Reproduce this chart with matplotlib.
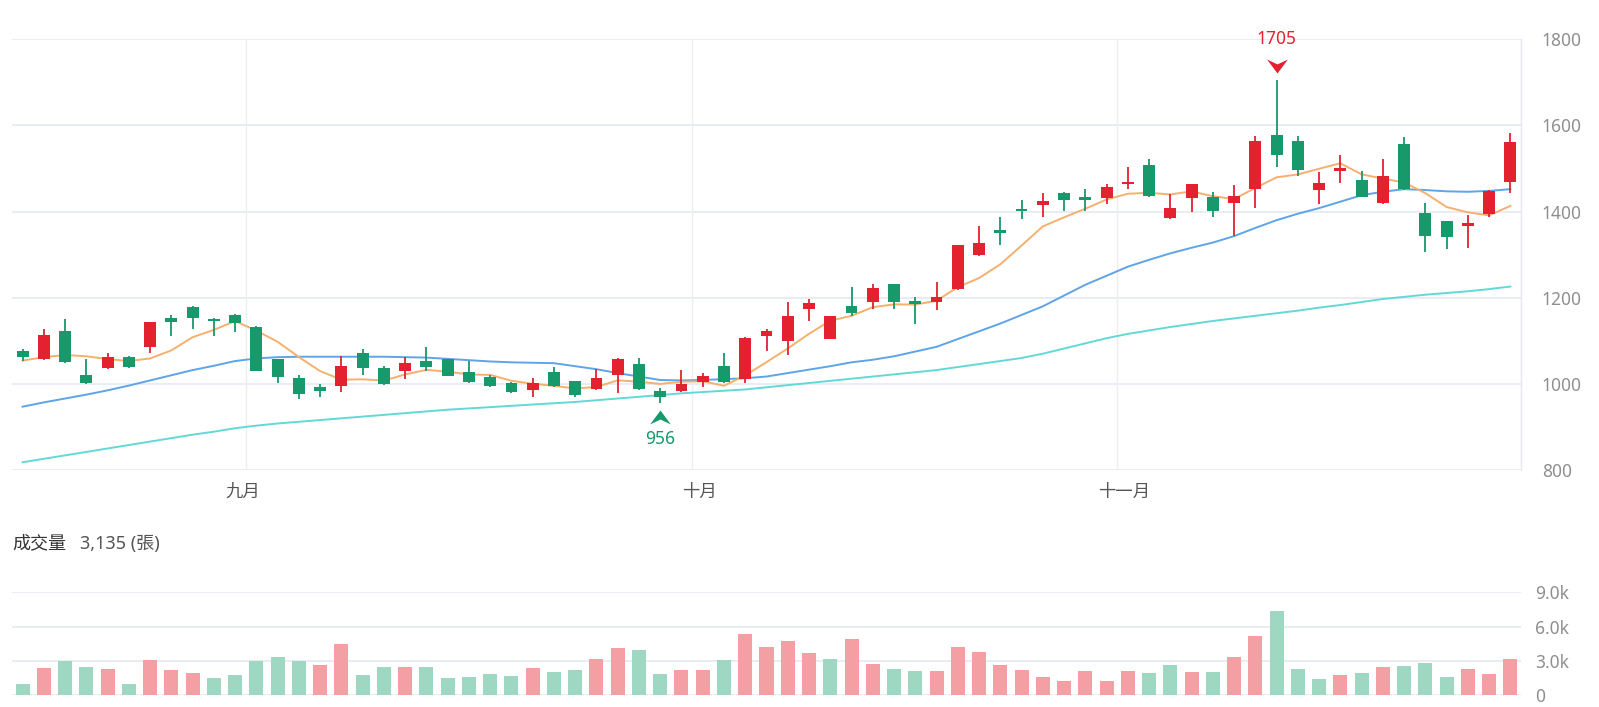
import numpy as np
import pandas as pd
import matplotlib
matplotlib.use("Agg")
import matplotlib.pyplot as plt
from matplotlib.path import Path
from matplotlib.transforms import offset_copy
from matplotlib.ticker import FuncFormatter

plt.rcParams['font.family'] = ['Noto Sans', 'Noto Sans CJK TC', 'DejaVu Sans']

# ---------------- data ----------------
opens = [1077, 1058, 1123, 1021, 1036, 1062, 1085, 1154, 1179, 1150,
         1160, 1133, 1057, 1013, 992, 995, 1072, 1036, 1031, 1053,
         1058, 1027, 1017, 1003, 986, 1028, 1007, 987, 1021, 1046,
         983, 984, 1005, 1042, 1011, 1110, 1100, 1174, 1104, 1181,
         1189, 1232, 1192, 1191, 1220, 1299, 1357, 1407, 1415, 1444,
         1434, 1431, 1464, 1508, 1386, 1432, 1433, 1421, 1452, 1578,
         1563, 1450, 1495, 1473, 1419, 1556, 1397, 1378, 1367, 1394,
         1469]
highs = [1080, 1127, 1150, 1057, 1071, 1064, 1144, 1161, 1180, 1152,
         1162, 1134, 1058, 1021, 999, 1065, 1080, 1041, 1062, 1086,
         1058, 1053, 1021, 1005, 1014, 1038, 1007, 1034, 1059, 1059,
         991, 1032, 1026, 1072, 1108, 1127, 1191, 1196, 1158, 1226,
         1231, 1232, 1201, 1236, 1323, 1367, 1387, 1427, 1442, 1446,
         1452, 1464, 1503, 1521, 1441, 1465, 1445, 1462, 1576, 1705,
         1576, 1491, 1532, 1495, 1521, 1572, 1419, 1378, 1392, 1450,
         1582]
lows = [1052, 1055, 1048, 1000, 1034, 1036, 1072, 1112, 1127, 1111,
        1121, 1030, 1001, 966, 970, 980, 1021, 998, 1011, 1031,
        1019, 1001, 993, 978, 970, 992, 970, 986, 978, 986,
        956, 982, 992, 1003, 1003, 1077, 1067, 1147, 1104, 1157,
        1173, 1173, 1140, 1171, 1218, 1297, 1322, 1382, 1387, 1402,
        1402, 1418, 1452, 1435, 1383, 1398, 1388, 1343, 1408, 1503,
        1483, 1417, 1467, 1433, 1417, 1450, 1307, 1313, 1316, 1388,
        1442]
closes = [1062, 1113, 1050, 1001, 1062, 1039, 1143, 1144, 1154, 1147,
          1141, 1031, 1015, 977, 984, 1041, 1036, 1000, 1048, 1038,
          1019, 1004, 995, 980, 1003, 995, 973, 1013, 1057, 987,
          969, 999, 1018, 1005, 1107, 1123, 1158, 1188, 1157, 1164,
          1223, 1191, 1185, 1202, 1322, 1328, 1351, 1402, 1425, 1427,
          1428, 1458, 1469, 1436, 1408, 1464, 1401, 1437, 1564, 1532,
          1497, 1467, 1501, 1435, 1483, 1452, 1343, 1340, 1373, 1448,
          1562]
volumes = [990, 2370, 3010, 2460, 2340, 960, 3100, 2190, 1930, 1490,
           1780, 2980, 3330, 3010, 2630, 4500, 1810, 2430, 2430, 2490,
           1520, 1640, 1840, 1670, 2370, 2020, 2220, 3130, 4090, 3980,
           1900, 2190, 2250, 3070, 5320, 4240, 4710, 3680, 3160, 4880,
           2720, 2310, 2130, 2110, 4240, 3800, 2690, 2250, 1610, 1230,
           2160, 1290, 2110, 1930, 2690, 2050, 2050, 3390, 5180, 7370,
           2310, 1400, 1810, 1930, 2510, 2600, 2810, 1610, 2310, 1900,
           3135]
# first four 5-day MA values (earlier closes are off-chart)
ma5_head = [1054, 1062, 1067, 1064]
ma20 = [947, 957, 966, 975, 985, 996, 1008, 1020, 1032, 1042,
        1053, 1059, 1062, 1063, 1063, 1063, 1063, 1063, 1062, 1061,
        1058, 1055, 1052, 1050, 1049, 1048, 1041, 1034, 1025, 1017,
        1009, 1008, 1009, 1011, 1013, 1017, 1025, 1033, 1041, 1050,
        1056, 1064, 1075, 1086, 1104, 1122, 1140, 1160, 1180, 1205,
        1230, 1251, 1272, 1288, 1303, 1316, 1328, 1343, 1362, 1380,
        1395, 1408, 1423, 1438, 1446, 1452, 1450, 1447, 1446, 1448,
        1452]
ma60 = [818, 826, 834, 842, 850, 858, 866, 874, 882, 889,
        897, 903, 908, 912, 916, 920, 924, 928, 932, 936,
        940, 943, 946, 949, 952, 955, 958, 962, 966, 970,
        974, 978, 981, 984, 987, 992, 997, 1002, 1007, 1012,
        1017, 1022, 1027, 1032, 1039, 1046, 1053, 1060, 1070, 1082,
        1094, 1106, 1116, 1124, 1132, 1139, 1146, 1152, 1158, 1164,
        1170, 1177, 1183, 1190, 1197, 1202, 1207, 1211, 1215, 1220,
        1226]
month_labels = ['九月', '十月', '十一月']
month_start = [11, 32, 52]
price_ticks = [800, 1000, 1200, 1400, 1600, 1800]
vol_ticks = [0, 3000, 6000, 9000]

# ---------------- styling ----------------
RED = '#e3212f'
GREEN = '#17996b'
RED_V = '#f39fa4'
GREEN_V = '#9ed8c3'
GRID = '#e8eaf2'
TICK = '#8f8f8f'
month_label_shift = [-0.65, -0.15, -0.15]

o = np.array(opens, float)
h = np.array(highs, float)
l = np.array(lows, float)
c = np.array(closes, float)
v = np.array(volumes, float)
x = np.arange(len(c))

ma5 = pd.Series(c).rolling(5).mean().to_numpy()
ma5[:4] = ma5_head

W, H = 1599, 707
fig = plt.figure(figsize=(W / 100, H / 100), dpi=100)
left, right = 12, 1521
ax = fig.add_axes([left / W, 1 - 470 / H, (right - left) / W, (470 - 39.3) / H])
axv = fig.add_axes([left / W, 1 - 695.3 / H, (right - left) / W, (695.3 - 592.3) / H])

# ---- price panel ----
for yv in price_ticks:
    ax.axhline(yv, color=GRID, lw=1.3, zorder=0)
for ms in month_start:
    ax.axvline(ms - 0.5, color='#eceef4', lw=1.0, zorder=0)

ax.plot(x, ma60, color='#62d9d6', lw=1.4, zorder=2)
ax.plot(x, ma20, color='#5ea4e8', lw=1.4, zorder=2)
ax.plot(x, ma5, color='#f6b06e', lw=1.4, zorder=2)

up = c >= o
ccol = np.where(up, RED, GREEN)
ax.vlines(x, l, h, colors=ccol, lw=1.3, zorder=3)
body_h = np.abs(c - o)
min_h = 4.0
mid = (o + c) / 2
bh = np.maximum(body_h, min_h)
ax.bar(x, bh, bottom=mid - bh / 2, width=0.56, color=ccol, linewidth=0, zorder=4)

# high / low markers
down_path = Path([(-1, 0.67), (0, 0.2), (1, 0.67), (0, -0.67), (-1, 0.67)],
                 [Path.MOVETO, Path.LINETO, Path.LINETO, Path.LINETO, Path.CLOSEPOLY])
up_path = Path([(-1, -0.67), (0, -0.2), (1, -0.67), (0, 0.67), (-1, -0.67)],
               [Path.MOVETO, Path.LINETO, Path.LINETO, Path.LINETO, Path.CLOSEPOLY])
ih = int(np.argmax(h))
il = int(np.argmin(l))
ax.plot(ih, h[ih], marker=down_path, ms=15, color=RED, mew=0, clip_on=False, zorder=6,
        transform=offset_copy(ax.transData, fig=fig, x=0, y=10.5, units='points'))
ax.annotate(f'{h[ih]:.0f}', xy=(ih, h[ih]), xytext=(0, 29.5), textcoords='offset points',
            ha='center', va='center', color=RED, fontsize=12.5, annotation_clip=False)
ax.plot(il, l[il], marker=up_path, ms=15, color=GREEN, mew=0, clip_on=False, zorder=6,
        transform=offset_copy(ax.transData, fig=fig, x=0, y=-10, units='points'))
ax.annotate(f'{l[il]:.0f}', xy=(il, l[il]), xytext=(0, -26), textcoords='offset points',
            ha='center', va='center', color=GREEN, fontsize=12.5, annotation_clip=False)

ax.set_xlim(-0.5, len(c) - 0.5)
ax.set_ylim(800, 1800)
ax.set_yticks(price_ticks)
ax.yaxis.tick_right()
ax.tick_params(axis='y', length=0, pad=15, labelsize=12.5, labelcolor=TICK)
ax.set_xticks([ms + sh for ms, sh in zip(month_start, month_label_shift)])
ax.set_xticklabels(month_labels)
ax.tick_params(axis='x', length=0, pad=9, labelsize=12.5, labelcolor='#555555')
for s in ['top', 'left', 'bottom']:
    ax.spines[s].set_visible(False)
ax.spines['right'].set_color('#e6e8ef')
ax.spines['right'].set_linewidth(1.0)

# ---- volume panel ----
for yv in vol_ticks:
    axv.axhline(yv, color=GRID, lw=1.3, zorder=0)
vup = np.r_[c[0] >= o[0], c[1:] >= c[:-1]]
vcol = np.where(vup, RED_V, GREEN_V)
axv.bar(x, v, width=0.66, color=vcol, linewidth=0, zorder=2)
axv.set_xlim(-0.5, len(c) - 0.5)
axv.set_ylim(0, 9000)
axv.set_yticks(vol_ticks)
axv.yaxis.set_major_formatter(FuncFormatter(lambda val, pos: '0' if val == 0 else f'{val / 1000:.1f}k'))
axv.yaxis.tick_right()
axv.tick_params(axis='y', length=0, pad=10, labelsize=12.5, labelcolor=TICK)
axv.set_xticks([])
for s in axv.spines.values():
    s.set_visible(False)

fig.text(12 / W, 1 - 543.5 / H, '成交量', ha='left', va='center', fontsize=13, color='#333333')
fig.text(80 / W, 1 - 543.5 / H, f'{int(v[-1]):,} (張)', ha='left', va='center', fontsize=13, color='#555555')

fig.savefig('out.png', dpi=100)
